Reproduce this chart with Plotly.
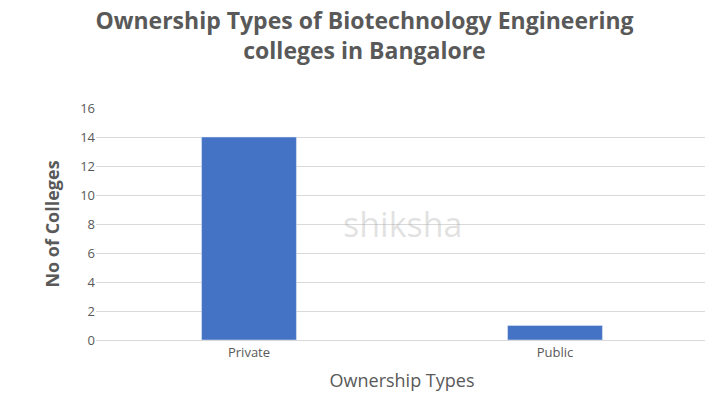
import plotly.graph_objects as go

categories = ['Private', 'Public']
colleges = [14, 1]
y_ticks = [0, 2, 4, 6, 8, 10, 12, 14, 16]

fig = go.Figure()
fig.add_trace(go.Bar(x=categories, y=colleges, marker_color='#4472C4', width=0.31))

fig.add_annotation(text='shiksha', x=0.5, y=0.5, xref='paper', yref='paper',
                   showarrow=False, font=dict(size=34, color='rgba(170,170,170,0.35)'))

fig.update_layout(
    width=713, height=413,
    margin=dict(l=88, r=13, t=100, b=81),
    paper_bgcolor='white', plot_bgcolor='white',
    font=dict(family='Open Sans', color='#595959'),
    title=dict(text='<b>Ownership Types of Biotechnology Engineering<br>colleges in Bangalore</b>',
               x=0.5, xanchor='center', y=0.95, yanchor='top',
               font=dict(size=23, color='#595959', weight=500)),
    xaxis=dict(title=dict(text='Ownership Types', font=dict(size=18), standoff=14),
               tickfont=dict(size=13), showline=True, linecolor='#d9d9d9'),
    yaxis=dict(title=dict(text='<b>No of Colleges</b>', font=dict(size=18)),
               range=[0, 16], tickvals=y_ticks, tickfont=dict(size=13),
               gridcolor='#d9d9d9', zeroline=False),
    showlegend=False,
)

fig.write_html('out.html')
